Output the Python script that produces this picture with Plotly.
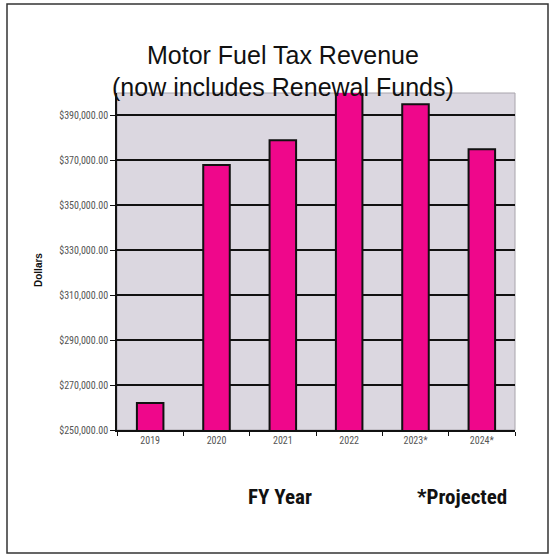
import plotly.graph_objects as go

# Fiscal years and motor fuel tax revenue (dollars); starred years are projections
years = ["2019", "2020", "2021", "2022", "2023*", "2024*"]
revenue = [262000, 368000, 379000, 405000, 395000, 375000]

y_ticks = [250000, 270000, 290000, 310000, 330000, 350000, 370000, 390000]

W, H = 553, 558
L, R, T, B = 117, 38, 93, 128
pw, ph = W - L - R, H - T - B


def px(x):
    return (x - L) / pw


def py(y):
    return (H - B - y) / ph


fig = go.Figure(
    go.Bar(
        x=years,
        y=revenue,
        width=0.4,
        marker=dict(color="#EF078B", line=dict(color="#111111", width=2)),
        hoverinfo="x+y",
    )
)

narrow = "Liberation Sans Narrow, Roboto Condensed, Arial Narrow, Liberation Sans, sans-serif"
tick_font = dict(family=narrow, size=10, color="#555555")

fig.update_layout(
    width=W,
    height=H,
    margin=dict(l=L, r=R, t=T, b=B),
    paper_bgcolor="white",
    plot_bgcolor="#DBD7E0",
    showlegend=False,
    xaxis=dict(
        type="category",
        showgrid=False,
        showline=True,
        linecolor="#111111",
        linewidth=1.5,
        ticks="outside",
        tickson="boundaries",
        ticklen=4,
        tickcolor="#111111",
        tickfont=tick_font,
        fixedrange=True,
    ),
    yaxis=dict(
        range=[250000, 400000],
        tickvals=y_ticks,
        tickformat="$,.2f",
        showgrid=True,
        gridcolor="#111111",
        gridwidth=1.5,
        showline=True,
        linecolor="#111111",
        linewidth=1.5,
        ticks="outside",
        ticklen=5,
        tickcolor="#111111",
        tickfont=tick_font,
        zeroline=False,
        fixedrange=True,
    ),
    shapes=[
        # outer frame around the whole chart
        dict(type="rect", xref="paper", yref="paper",
             x0=px(7), x1=px(548), y0=py(553), y1=py(4),
             line=dict(color="#333333", width=1.5), layer="below"),
        # light border on the plot area
        dict(type="rect", xref="paper", yref="paper",
             x0=0, x1=1, y0=0, y1=1,
             line=dict(color="#A8A4AC", width=1), layer="below"),
    ],
    annotations=[
        dict(text="Motor Fuel Tax Revenue", xref="paper", yref="paper",
             x=px(283), y=py(55), xanchor="center", yanchor="middle",
             showarrow=False,
             font=dict(family="Liberation Sans, Arial, sans-serif", size=25, color="#111111")),
        dict(text="(now includes Renewal Funds)", xref="paper", yref="paper",
             x=px(283), y=py(87), xanchor="center", yanchor="middle",
             showarrow=False,
             font=dict(family="Liberation Sans, Arial, sans-serif", size=25, color="#111111")),
        dict(text="<b>Dollars</b>", xref="paper", yref="paper",
             x=px(38), y=py(270), xanchor="center", yanchor="middle",
             textangle=-90, showarrow=False,
             font=dict(family="Liberation Sans, Arial, sans-serif", size=10, color="#111111")),
        dict(text="<b>FY Year</b>", xref="paper", yref="paper",
             x=px(280), y=py(497), xanchor="center", yanchor="middle",
             showarrow=False,
             font=dict(family=narrow, size=21, color="#111111")),
        dict(text="<b>*Projected</b>", xref="paper", yref="paper",
             x=px(462), y=py(497), xanchor="center", yanchor="middle",
             showarrow=False,
             font=dict(family=narrow, size=21, color="#111111")),
    ],
)

fig.write_html("out.html")
